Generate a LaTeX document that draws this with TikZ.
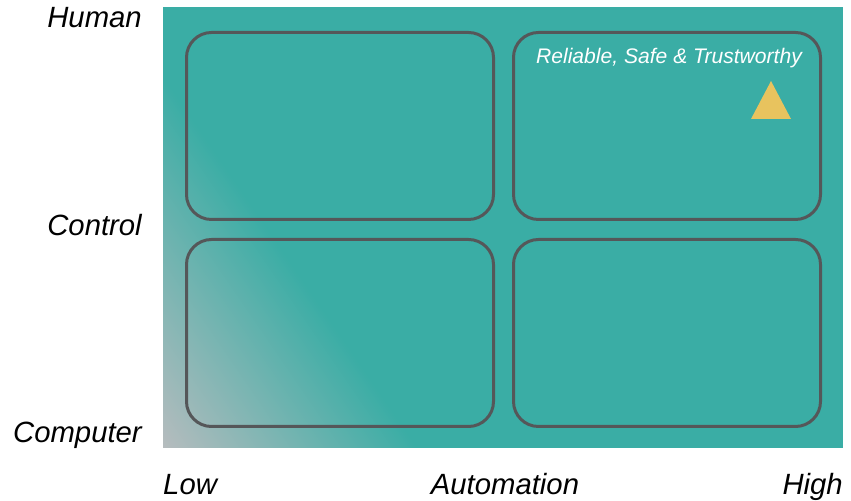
\documentclass[tikz,border=0pt]{standalone}
\usepackage{fontspec}
\setmainfont{Liberation Sans}
\usetikzlibrary{positioning}
\definecolor{tealbg}{HTML}{3AADA5}
\definecolor{greycorner}{HTML}{B6BCBE}
\definecolor{boxline}{HTML}{555759}
\definecolor{markyellow}{HTML}{E8C35E}
\tikzset{
  quadbox/.style={draw=boxline, line width=0.9mm, rounded corners=7.5mm,
    minimum width=92.1mm, minimum height=56.1mm, inner sep=0pt},
  axislabel/.style={font=\fontsize{25}{30}\selectfont\itshape, text=black, inner sep=0pt}
}
\begin{document}
\begin{tikzpicture}[x=0.3mm,y=0.3mm]
        \useasboundingbox (0,0) rectangle (851,501);
        % Background field with grey corner
        \fill[tealbg] (163,53) rectangle (843,494);
        \begin{scope}
          \clip (163,53) rectangle (843,494);
          \begin{scope}[transform canvas={shift={(163,53)},rotate=34.4}]
            \shade[left color=greycorner, right color=tealbg] (0,-600) rectangle (210,600);
          \end{scope}
        \end{scope}

        % Quadrants
        \node[quadbox] (lowhuman) at (340,375) {};
        \node[quadbox] (highhuman) at (667,375) {};
        \node[quadbox] (lowcomputer) at (340,168) {};
        \node[quadbox] (highcomputer) at (667,168) {};

        \node[anchor=base, text=white, inner sep=0pt,
          font=\fontsize{18}{22}\selectfont\itshape] (goal) at (669,437) {Reliable, Safe \& Trustworthy};
        \fill[markyellow] (771,420) -- (751,382) -- (791,382) -- cycle;

        % Axis labels
        \node[axislabel, anchor=base east] (human) at (142,473) {Human};
        \node[axislabel, anchor=base east] (control) at (142,265) {Control};
        \node[axislabel, anchor=base east] (computer) at (142,58) {Computer};
        \node[axislabel, anchor=base west] (low) at (163,6) {Low};
        \node[axislabel, anchor=base] (automation) at (505,6) {Automation};
        \node[axislabel, anchor=base east] (high) at (843,6) {High};
    \end{tikzpicture}
\end{document}
